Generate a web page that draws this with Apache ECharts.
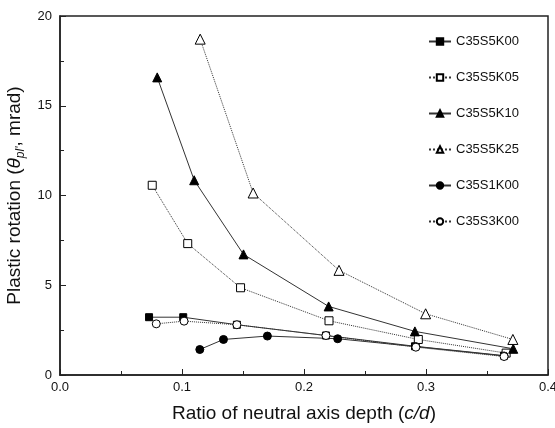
<!DOCTYPE html>
<html>
<head>
<meta charset="utf-8">
<script src="https://cdn.jsdelivr.net/npm/echarts@6/dist/echarts.min.js"></script>
<style>
  html, body { margin: 0; padding: 0; background: #fff; }
  #chart { width: 555px; height: 428px; }
</style>
</head>
<body>
<div id="chart"></div>
<script>
// 数据 (c/d, 塑性转角 mrad)
var seriesNames = ["C35S5K00", "C35S5K05", "C35S5K10", "C35S5K25", "C35S1K00", "C35S3K00"];

var k00 = [[0.073, 3.22], [0.101, 3.22], [0.145, 2.8], [0.218, 2.2], [0.291, 1.6], [0.364, 1.08]];
var k05 = [[0.0756, 10.57], [0.1047, 7.32], [0.148, 4.86], [0.2205, 3.02], [0.2937, 1.98], [0.3657, 1.22]];
var k10 = [[0.0797, 16.58], [0.110, 10.85], [0.1504, 6.72], [0.2202, 3.82], [0.2909, 2.43], [0.3715, 1.46]];
var k25 = [[0.1149, 18.71], [0.1583, 10.14], [0.2287, 5.83], [0.2997, 3.41], [0.3712, 1.98]];
var s1k00 = [[0.1146, 1.42], [0.134, 1.98], [0.170, 2.17], [0.2276, 2.02], [0.2917, 1.58], [0.364, 1.06]];
var s3k00 = [[0.0789, 2.85], [0.1017, 3.0], [0.145, 2.8], [0.218, 2.2], [0.2917, 1.55], [0.364, 1.03]];

var allData = [k00, k05, k10, k25, s1k00, s3k00];
var symbols = ["rect", "rect", "triangle", "triangle", "circle", "circle"];
var symbolSizes = [7, 8, 9, 10, 8, 8];
var filled = [true, false, true, false, true, false];
var dashed = [false, true, false, true, false, true];

var fontFamily = "'Liberation Sans', Arial, sans-serif";

var seriesArr = seriesNames.map(function (name, i) {
  return {
    name: name,
    type: "line",
    data: allData[i],
    symbol: symbols[i],
    symbolSize: symbolSizes[i],
    showAllSymbol: true,
    lineStyle: {
      color: "#333",
      width: 1,
      type: dashed[i] ? "dotted" : "solid"
    },
    itemStyle: {
      color: filled[i] ? "#000" : "#fff",
      borderColor: "#000",
      borderWidth: 1
    },
    emphasis: { disabled: true },
    animation: false
  };
});

var myChart = echarts.init(document.getElementById("chart"), null, { renderer: "canvas" });

var option = {
  backgroundColor: "#fff",
  textStyle: { fontFamily: fontFamily },
  grid: {
    left: 60,
    right: 7,
    top: 16,
    bottom: 53,
    show: true,
    borderColor: "#222",
    borderWidth: 1.5,
    containLabel: false,
    outerBoundsMode: "none"
  },
  legend: {
    orient: "vertical",
    left: 423,
    top: 30,
    itemWidth: 22,
    itemHeight: 8,
    itemGap: 23,
    textStyle: { fontSize: 13, color: "#111", fontFamily: fontFamily },
    data: seriesNames
  },
  xAxis: {
    type: "value",
    min: 0,
    max: 0.4,
    interval: 0.1,
    name: "Ratio of neutral axis depth ({i|c/d})",
    nameLocation: "middle",
    nameGap: 29,
    nameTextStyle: {
      fontSize: 19,
      color: "#111",
      fontFamily: fontFamily,
      rich: { i: { fontSize: 19, fontStyle: "italic", color: "#111", fontFamily: fontFamily } }
    },
    axisLine: { lineStyle: { color: "#222", width: 1.5 } },
    axisTick: { inside: true, length: 6, lineStyle: { color: "#222", width: 1 } },
    minorTick: { show: true, splitNumber: 2, length: 4, lineStyle: { color: "#222", width: 1 } },
    splitLine: { show: false },
    axisLabel: {
      fontSize: 13,
      color: "#111",
      margin: 6,
      formatter: function (v) { return v.toFixed(1); }
    }
  },
  yAxis: {
    type: "value",
    min: 0,
    max: 20,
    interval: 5,
    name: "Plastic rotation ({i|θ}{sub|pl'}, mrad)",
    nameLocation: "middle",
    nameGap: 30,
    nameTextStyle: {
      fontSize: 19,
      color: "#111",
      fontFamily: fontFamily,
      lineHeight: 24,
      rich: {
        i: { fontSize: 19, fontStyle: "italic", color: "#111", fontFamily: fontFamily, lineHeight: 24 },
        sub: { fontSize: 12, fontStyle: "italic", color: "#111", fontFamily: fontFamily, verticalAlign: "bottom", lineHeight: 17, padding: [7, 0, 0, 0] }
      }
    },
    axisLine: { lineStyle: { color: "#222", width: 1.5 } },
    axisTick: { inside: true, length: 6, lineStyle: { color: "#222", width: 1 } },
    minorTick: { show: true, splitNumber: 2, length: 4, lineStyle: { color: "#222", width: 1 } },
    splitLine: { show: false },
    axisLabel: { fontSize: 13, color: "#111", margin: 8 }
  },
  series: seriesArr
};

myChart.setOption(option);
</script>
</body>
</html>
